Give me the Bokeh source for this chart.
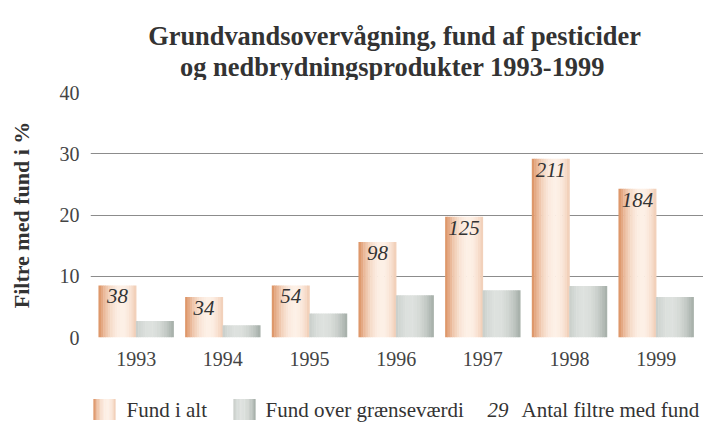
import numpy as np
from bokeh.plotting import figure
from bokeh.models import FixedTicker, ColumnDataSource, Label
from bokeh.layouts import column
from bokeh.embed import file_html
from bokeh.resources import INLINE
from bokeh.core.properties import value

# ---------------- data ----------------
years = ["1993", "1994", "1995", "1996", "1997", "1998", "1999"]
fund_i_alt = [8.5, 6.6, 8.5, 15.6, 19.7, 29.2, 24.3]          # % filtre med fund
fund_over_graense = [2.7, 2.0, 3.9, 6.9, 7.7, 8.4, 6.6]       # % over grænseværdi
antal_filtre = [38, 34, 54, 98, 125, 211, 184]                 # antal filtre med fund
y_ticks = [0, 10, 20, 30, 40]
title_lines = ["Grundvandsovervågning, fund af pesticider",
               "og nedbrydningsprodukter 1993-1999"]
legend_texts = ["Fund i alt", "Fund over grænseværdi", "29", "Antal filtre med fund"]

SERIF = "Liberation Serif"
TXT = "#333333"

# ---------------- gradient helpers ----------------
def hex2rgb(h):
    h = h.lstrip("#")
    return np.array([int(h[i:i + 2], 16) for i in (0, 2, 4)], dtype=float)

def rgb2hex(c):
    c = np.clip(np.round(c), 0, 255).astype(int)
    return "#%02x%02x%02x" % tuple(c)

N = 16
ORANGE_DARK, ORANGE_LIGHT = hex2rgb("#d6814c"), hex2rgb("#fdf0e6")
GRAY_DARK, GRAY_LIGHT = hex2rgb("#8f9a93"), hex2rgb("#dde1de")

def profile(peak, span):
    t = (np.arange(N) + 0.5) / N
    return np.clip(1 - ((t - peak) / span) ** 2, 0, 1)

orange_cols = [rgb2hex(ORANGE_DARK + f * (ORANGE_LIGHT - ORANGE_DARK)) for f in profile(0.62, 0.66)]
gray_cols = [rgb2hex(GRAY_DARK + f * (GRAY_LIGHT - GRAY_DARK)) for f in profile(0.38, 0.72)]

BAR_W = 0.433
OFF = 0.216

def strips(values, offset, cols):
    xs, tops, cs = [], [], []
    for i, v in enumerate(values):
        for k in range(N):
            xs.append(i + offset + (k + 0.5 - N / 2) * BAR_W / N)
            tops.append(v)
            cs.append(cols[k])
    return ColumnDataSource(dict(x=xs, top=tops, color=cs))

def strip_figure(h):
    f = figure(output_backend="svg", toolbar_location=None, frame_width=613, frame_height=h,
               min_border_left=90, min_border_right=0, min_border_top=0, min_border_bottom=0,
               x_range=(90, 703), y_range=(0, h))
    f.axis.visible = False
    f.grid.visible = False
    f.outline_line_color = None
    return f

# ---------------- title strip (x in page pixels) ----------------
TH = 80
tf = strip_figure(TH)
for tx, ty, txt in zip([394, 392], [TH - 35, TH - 66.5], title_lines):
    tf.add_layout(Label(x=tx, y=ty, text=txt, text_align="center",
                        text_baseline="alphabetic", text_font=SERIF,
                        text_font_style="bold", text_font_size="26.4px", text_color=TXT))

# ---------------- main figure ----------------
p = figure(
    output_backend="svg", toolbar_location=None,
    frame_width=613, frame_height=245,
    min_border_left=90, min_border_right=0, min_border_top=12, min_border_bottom=36,
    x_range=(-0.527, 6.546), y_range=(0, 40),
)

p.outline_line_color = None
p.xgrid.grid_line_color = None
p.ygrid.grid_line_color = "#8c8c8c"
p.ygrid.grid_line_width = 1
p.ygrid.ticker = FixedTicker(ticks=y_ticks)

p.yaxis.ticker = FixedTicker(ticks=y_ticks)
p.yaxis.axis_line_color = None
p.yaxis.major_tick_line_color = None
p.yaxis.minor_tick_line_color = None
p.yaxis.major_label_standoff = 5
p.yaxis.major_label_text_font = SERIF
p.yaxis.major_label_text_font_size = "20px"
p.yaxis.major_label_text_color = "#444444"
p.yaxis.axis_label = "Filtre med fund i %"
p.yaxis.axis_label_text_font = SERIF
p.yaxis.axis_label_text_font_size = "22px"
p.yaxis.axis_label_text_font_style = "bold"
p.yaxis.axis_label_text_color = TXT
p.yaxis.axis_label_standoff = 23

p.xaxis.ticker = FixedTicker(ticks=list(range(len(years))))
p.xaxis.major_label_overrides = {i: y for i, y in enumerate(years)}
p.xaxis.axis_line_color = None
p.xaxis.major_tick_line_color = None
p.xaxis.minor_tick_line_color = None
p.xaxis.major_label_standoff = 8
p.xaxis.major_label_text_font = SERIF
p.xaxis.major_label_text_font_size = "20px"
p.xaxis.major_label_text_color = "#444444"

p.vbar(x="x", top="top", bottom=0, width=BAR_W / N * 1.2, fill_color="color",
       line_color=None, source=strips(fund_i_alt, -OFF, orange_cols))
p.vbar(x="x", top="top", bottom=0, width=BAR_W / N * 1.2, fill_color="color",
       line_color=None, source=strips(fund_over_graense, OFF, gray_cols))

lab = ColumnDataSource(dict(x=[i - OFF for i in range(len(years))], y=fund_i_alt,
                            t=[str(a) for a in antal_filtre]))
p.text(x="x", y="y", text="t", source=lab, text_align="center", text_baseline="top",
       y_offset=4, text_font=value(SERIF), text_font_style="italic",
       text_font_size="21px", text_color=TXT)

# ---------------- legend strip (x in page pixels) ----------------
LH = 49
lg = strip_figure(LH)
LY = 13
def swatch(x0, w, cols):
    xs = [x0 + (k + 0.5) * w / N for k in range(N)]
    lg.rect(x=xs, y=LY, width=w / N * 1.2, height=21, fill_color=cols, line_color=None)

swatch(93, 22, orange_cols)
swatch(233, 22, gray_cols)
lg.text(x=[126, 265, 487, 521], y=[LY] * 4, text=legend_texts,
        text_baseline="middle", text_font=value(SERIF), text_font_size="21px",
        text_font_style=["normal", "normal", "italic", "normal"], text_color=TXT)

open("out.html", "w").write(file_html(column(tf, p, lg, spacing=0), INLINE))
